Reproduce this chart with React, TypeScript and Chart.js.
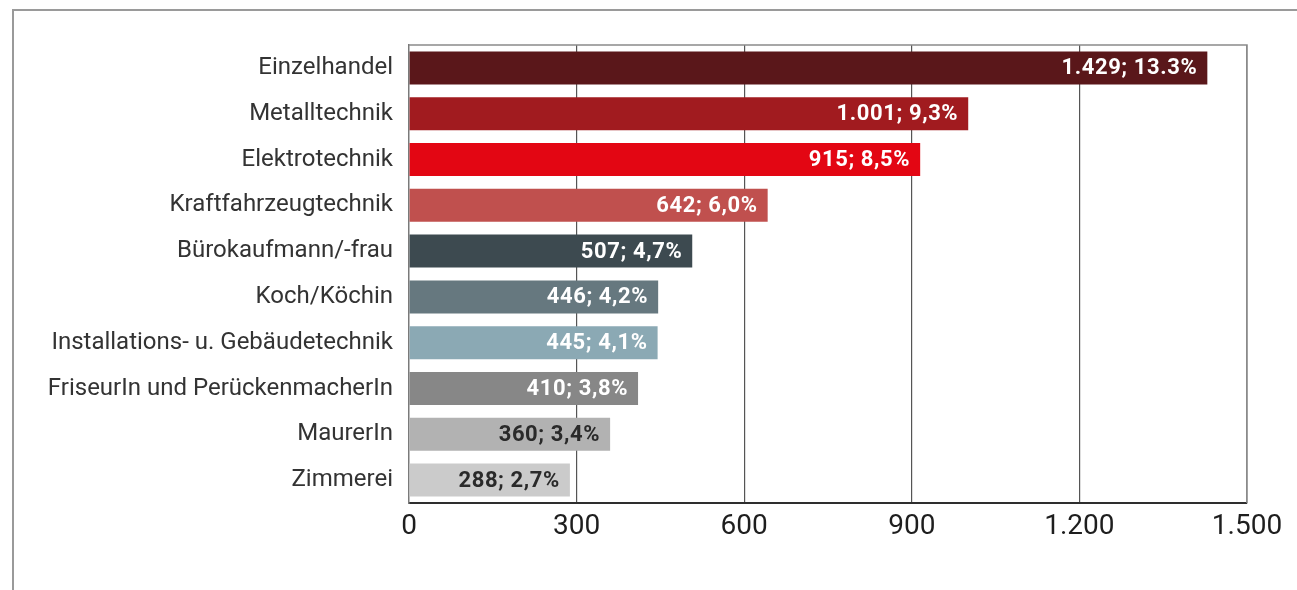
import React, { useEffect, useRef } from "react";
import { Chart, registerables } from "chart.js";

Chart.register(...registerables);

const categories = [
  "Einzelhandel",
  "Metalltechnik",
  "Elektrotechnik",
  "Kraftfahrzeugtechnik",
  "Bürokaufmann/-frau",
  "Koch/Köchin",
  "Installations- u. Gebäudetechnik",
  "FriseurIn und PerückenmacherIn",
  "MaurerIn",
  "Zimmerei",
];
const values = [1429, 1001, 915, 642, 507, 446, 445, 410, 360, 288];
const shares = ["13.3%", "9,3%", "8,5%", "6,0%", "4,7%", "4,2%", "4,1%", "3,8%", "3,4%", "2,7%"];
const barColors = [
  "#5a171a",
  "#a11b1f",
  "#e30613",
  "#c0504e",
  "#3d4a50",
  "#66787f",
  "#8ba9b4",
  "#878787",
  "#b2b2b2",
  "#cbcbcb",
];
const labelColors = [
  "#ffffff",
  "#ffffff",
  "#ffffff",
  "#ffffff",
  "#ffffff",
  "#ffffff",
  "#ffffff",
  "#ffffff",
  "#2a2a2a",
  "#2a2a2a",
];
const xMin = 0;
const xMax = 1500;
const xStep = 300;

function fmt(n: number): string {
  return String(n).replace(/\B(?=(\d{3})+(?!\d))/g, ".");
}

const decorPlugin = {
  id: "decor",
  beforeDraw(chart: any) {
    const ctx = chart.ctx;
    ctx.save();
    ctx.fillStyle = "#ffffff";
    ctx.fillRect(0, 0, chart.width, chart.height);
    ctx.strokeStyle = "#9a9a9a";
    ctx.lineWidth = 2;
    ctx.beginPath();
    ctx.moveTo(13, chart.height);
    ctx.lineTo(13, 10);
    ctx.lineTo(chart.width, 10);
    ctx.stroke();
    ctx.restore();
  },
  beforeDatasetsDraw(chart: any) {
    const { ctx, chartArea } = chart;
    ctx.save();
    ctx.strokeStyle = "#8a8a8a";
    ctx.lineWidth = 1.5;
    ctx.beginPath();
    ctx.moveTo(chartArea.left, chartArea.top);
    ctx.lineTo(chartArea.right, chartArea.top);
    ctx.lineTo(chartArea.right, chartArea.bottom);
    ctx.stroke();
    ctx.restore();
  },
  afterDatasetsDraw(chart: any) {
    const ctx = chart.ctx;
    const meta = chart.getDatasetMeta(0);
    ctx.save();
    ctx.font = "bold 22px Roboto";
    try {
      (ctx as any).letterSpacing = "0.6px";
    } catch (e) {}
    ctx.textAlign = "right";
    ctx.textBaseline = "middle";
    meta.data.forEach((bar: any, i: number) => {
      ctx.fillStyle = labelColors[i];
      ctx.fillText(fmt(values[i]) + "; " + shares[i], bar.x - 10, bar.y + 1);
    });
    ctx.restore();
  },
};

export default function App() {
  const ref = useRef<HTMLCanvasElement | null>(null);

  useEffect(() => {
    if (!ref.current) return;
    const chart = new Chart(ref.current, {
      type: "bar",
      data: {
        labels: categories,
        datasets: [
          {
            data: values,
            backgroundColor: barColors,
            borderWidth: 0,
            barPercentage: 0.72,
            categoryPercentage: 1,
          },
        ],
      },
      options: {
        indexAxis: "y",
        responsive: false,
        animation: false,
        devicePixelRatio: 1,
        layout: { padding: { left: 0, top: 45, right: 50, bottom: 0 } },
        plugins: {
          legend: { display: false },
          tooltip: { enabled: false },
        },
        scales: {
          x: {
            min: xMin,
            max: xMax,
            ticks: {
              stepSize: xStep,
              color: "#1e1e1e",
              font: { family: "Roboto", size: 28 },
              padding: 7,
              callback: (v: any) => fmt(Number(v)),
            },
            grid: {
              drawTicks: false,
              lineWidth: 1.2,
              color: (c: any) => {
                const v = c.tick ? c.tick.value : 0;
                if (v === xMax) return "#8a8a8a";
                if (v === xMin) return "rgba(0,0,0,0)";
                return "#555555";
              },
            },
            border: { color: "#2e2e2e", width: 2 },
            afterFit: (s: any) => {
              s.height = 87;
            },
          },
          y: {
            ticks: {
              color: "#333333",
              font: { family: "Roboto", size: 24 },
              padding: 16,
            },
            grid: { display: false, drawTicks: false },
            border: { color: "#7a7a7a", width: 1.5 },
            afterFit: (s: any) => {
              s.width = 409;
            },
          },
        },
      },
      plugins: [decorPlugin],
    } as any);
    return () => chart.destroy();
  }, []);

  return (
    <div style={{ position: "absolute", left: 0, top: 0, width: 1297, height: 590 }}>
      <canvas ref={ref} width={1297} height={590} style={{ width: 1297, height: 590 }} />
    </div>
  );
}
